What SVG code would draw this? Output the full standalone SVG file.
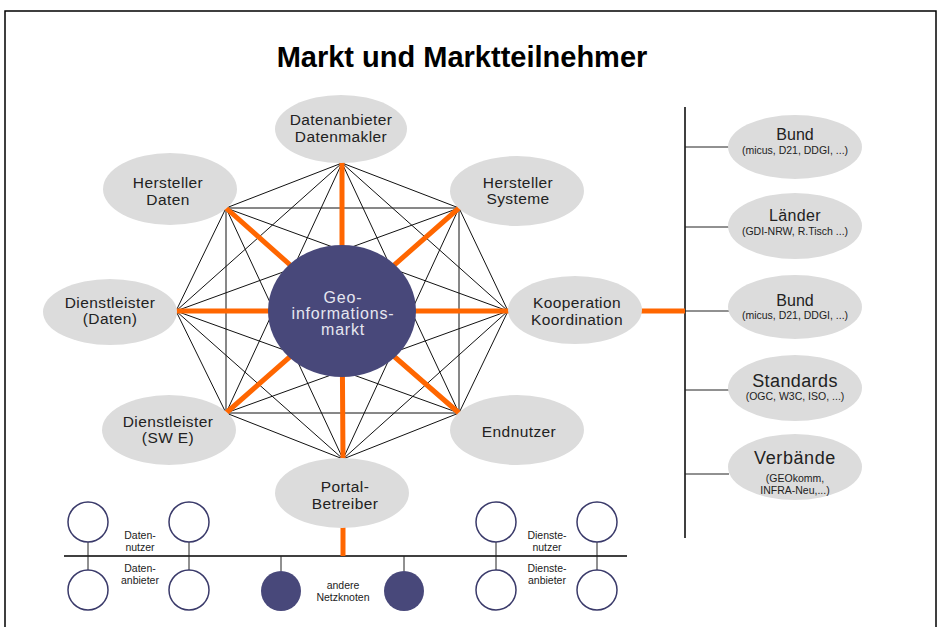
<svg xmlns="http://www.w3.org/2000/svg" width="938" height="627" viewBox="0 0 938 627">
<style>
text{font-family:"Liberation Sans",Arial,sans-serif;fill:#222;text-anchor:middle}
.node{fill:#dcdcdc;stroke:none}
.lbl{font-size:15.5px;letter-spacing:0.4px}
.sub{font-size:10.5px}
.small{font-size:10.5px}
.mesh line{stroke:#111;stroke-width:1}
.spoke{stroke:#ff6600;stroke-width:5;stroke-linecap:round}
.thin{stroke:#222;stroke-width:1}
.circ{fill:#fff;stroke:#3a3a6a;stroke-width:1.5}
.dark{fill:#48487a;stroke:none}
</style>
<rect x="5" y="11" width="931" height="640" fill="#fff" stroke="#000" stroke-width="1.5"/>
<text x="462" y="67" style="font-size:29px;font-weight:bold;fill:#000">Markt und Marktteilnehmer</text>

<g id="connectors">
  <g class="mesh">
    <line x1="342" y1="163" x2="459" y2="208"/>
    <line x1="342" y1="163" x2="508" y2="311"/>
    <line x1="342" y1="163" x2="459" y2="413"/>
    <line x1="342" y1="163" x2="226" y2="413"/>
    <line x1="342" y1="163" x2="176" y2="311"/>
    <line x1="342" y1="163" x2="226" y2="208"/>
    <line x1="459" y1="208" x2="508" y2="311"/>
    <line x1="459" y1="208" x2="459" y2="413"/>
    <line x1="459" y1="208" x2="343" y2="459"/>
    <line x1="459" y1="208" x2="176" y2="311"/>
    <line x1="459" y1="208" x2="226" y2="208"/>
    <line x1="508" y1="311" x2="459" y2="413"/>
    <line x1="508" y1="311" x2="343" y2="459"/>
    <line x1="508" y1="311" x2="226" y2="413"/>
    <line x1="508" y1="311" x2="226" y2="208"/>
    <line x1="459" y1="413" x2="343" y2="459"/>
    <line x1="459" y1="413" x2="226" y2="413"/>
    <line x1="459" y1="413" x2="176" y2="311"/>
    <line x1="343" y1="459" x2="226" y2="413"/>
    <line x1="343" y1="459" x2="176" y2="311"/>
    <line x1="343" y1="459" x2="226" y2="208"/>
    <line x1="226" y1="413" x2="176" y2="311"/>
    <line x1="226" y1="413" x2="226" y2="208"/>
    <line x1="176" y1="311" x2="226" y2="208"/>
  </g>
  <line class="spoke" x1="342" y1="163" x2="342" y2="311"/>
  <line class="spoke" x1="459" y1="208" x2="342" y2="311"/>
  <line class="spoke" x1="508" y1="311" x2="342" y2="311"/>
  <line class="spoke" x1="459" y1="413" x2="342" y2="311"/>
  <line class="spoke" x1="343" y1="459" x2="342" y2="311"/>
  <line class="spoke" x1="226" y1="413" x2="342" y2="311"/>
  <line class="spoke" x1="176" y1="311" x2="342" y2="311"/>
  <line class="spoke" x1="226" y1="208" x2="342" y2="311"/>
  <line x1="685" y1="107" x2="685" y2="538" stroke="#000" stroke-width="1.5"/>
  <line class="thin" x1="685" y1="147" x2="729" y2="147"/>
  <line class="thin" x1="685" y1="227" x2="729" y2="227"/>
  <line class="thin" x1="685" y1="311" x2="729" y2="311"/>
  <line class="thin" x1="685" y1="390" x2="729" y2="390"/>
  <line class="thin" x1="685" y1="474" x2="729" y2="474"/>
  <line x1="640" y1="311" x2="685" y2="311" stroke="#ff6600" stroke-width="5"/>
  <line x1="64" y1="556" x2="627" y2="556" stroke="#000" stroke-width="1.5"/>
  <line x1="343" y1="526" x2="343" y2="556" stroke="#ff6600" stroke-width="5"/>
  <line class="thin" x1="88" y1="542" x2="88" y2="570"/>
  <line class="thin" x1="189" y1="542" x2="189" y2="570"/>
  <line class="thin" x1="496" y1="542" x2="496" y2="570"/>
  <line class="thin" x1="597" y1="542" x2="597" y2="570"/>
  <line class="thin" x1="281" y1="556" x2="281" y2="571"/>
  <line class="thin" x1="404" y1="556" x2="404" y2="571"/>
</g>

<g id="geoinformationsmarkt">
  <ellipse cx="342" cy="311" rx="74" ry="66" fill="#48487a"/>
  <text x="343" y="303" style="font-size:16px;letter-spacing:0.8px;fill:#e6e6f0">Geo-</text>
  <text x="343" y="319" style="font-size:16px;letter-spacing:0.8px;fill:#e6e6f0">informations-</text>
  <text x="343" y="335" style="font-size:16px;letter-spacing:0.8px;fill:#e6e6f0">markt</text>
</g>
<g id="datenanbieter">
  <ellipse class="node" cx="341" cy="129" rx="66" ry="34"/>
  <text class="lbl" x="341" y="125">Datenanbieter</text>
  <text class="lbl" x="341" y="142">Datenmakler</text>
</g>
<g id="hersteller-daten">
  <ellipse class="node" cx="170" cy="189" rx="67" ry="36"/>
  <text class="lbl" x="168" y="188">Hersteller</text>
  <text class="lbl" x="168" y="205">Daten</text>
</g>
<g id="hersteller-systeme">
  <ellipse class="node" cx="517" cy="191" rx="67" ry="35"/>
  <text class="lbl" x="518" y="188">Hersteller</text>
  <text class="lbl" x="518" y="204">Systeme</text>
</g>
<g id="dienstleister-daten">
  <ellipse class="node" cx="110" cy="312" rx="67" ry="33"/>
  <text class="lbl" x="110" y="308">Dienstleister</text>
  <text class="lbl" x="110" y="324">(Daten)</text>
</g>
<g id="kooperation">
  <ellipse class="node" cx="575" cy="310" rx="67" ry="34"/>
  <text class="lbl" x="577" y="308">Kooperation</text>
  <text class="lbl" x="577" y="325">Koordination</text>
</g>
<g id="dienstleister-swe">
  <ellipse class="node" cx="169" cy="430" rx="67" ry="35"/>
  <text class="lbl" x="168" y="427">Dienstleister</text>
  <text class="lbl" x="168" y="443">(SW E)</text>
</g>
<g id="endnutzer">
  <ellipse class="node" cx="517" cy="430" rx="67" ry="35"/>
  <text class="lbl" x="519" y="437">Endnutzer</text>
</g>
<g id="portal-betreiber">
  <ellipse class="node" cx="342" cy="493" rx="67" ry="35"/>
  <text class="lbl" x="345" y="492">Portal-</text>
  <text class="lbl" x="345" y="509">Betreiber</text>
</g>

<g id="bund1">
  <ellipse class="node" cx="795" cy="147" rx="67" ry="32"/>
  <text x="795" y="140" style="font-size:16px">Bund</text>
  <text class="sub" x="795" y="154">(micus, D21, DDGI, ...)</text>
</g>
<g id="laender">
  <ellipse class="node" cx="795" cy="226" rx="67" ry="33"/>
  <text x="795" y="221" style="font-size:16px;letter-spacing:0.4px">Länder</text>
  <text class="sub" x="795" y="235">(GDI-NRW, R.Tisch ...)</text>
</g>
<g id="bund2">
  <ellipse class="node" cx="795" cy="307" rx="67" ry="32"/>
  <text x="795" y="306" style="font-size:16px">Bund</text>
  <text class="sub" x="795" y="319">(micus, D21, DDGI, ...)</text>
</g>
<g id="standards">
  <ellipse class="node" cx="795" cy="388" rx="67" ry="33"/>
  <text x="795" y="387" style="font-size:18px;letter-spacing:0.4px">Standards</text>
  <text class="sub" x="795" y="400">(OGC, W3C, ISO, ...)</text>
</g>
<g id="verbaende">
  <ellipse class="node" cx="795" cy="467" rx="67" ry="33"/>
  <text x="795" y="464" style="font-size:18px;letter-spacing:0.6px">Verbände</text>
  <text class="sub" x="795" y="482">(GEOkomm,</text>
  <text class="sub" x="795" y="494">INFRA-Neu,...)</text>
</g>

<g id="daten-nutzer-1"><circle class="circ" cx="88" cy="522" r="20"/></g>
<g id="daten-nutzer-2"><circle class="circ" cx="189" cy="522" r="20"/></g>
<g id="daten-anbieter-1"><circle class="circ" cx="88" cy="590" r="20"/></g>
<g id="daten-anbieter-2"><circle class="circ" cx="189" cy="590" r="20"/></g>
<g id="netzknoten-1"><circle class="dark" cx="281" cy="591" r="20"/></g>
<g id="netzknoten-2"><circle class="dark" cx="404" cy="591" r="20"/></g>
<g id="dienste-nutzer-1"><circle class="circ" cx="496" cy="522" r="20"/></g>
<g id="dienste-nutzer-2"><circle class="circ" cx="597" cy="522" r="20"/></g>
<g id="dienste-anbieter-1"><circle class="circ" cx="496" cy="590" r="20"/></g>
<g id="dienste-anbieter-2"><circle class="circ" cx="597" cy="590" r="20"/></g>

<g id="bus-labels">
  <text class="small" x="140" y="539">Daten-</text>
  <text class="small" x="140" y="551">nutzer</text>
  <text class="small" x="140" y="572">Daten-</text>
  <text class="small" x="140" y="584">anbieter</text>
  <text class="small" x="343" y="589">andere</text>
  <text class="small" x="343" y="601">Netzknoten</text>
  <text class="small" x="547" y="539">Dienste-</text>
  <text class="small" x="547" y="551">nutzer</text>
  <text class="small" x="547" y="572">Dienste-</text>
  <text class="small" x="547" y="584">anbieter</text>
</g>
</svg>
